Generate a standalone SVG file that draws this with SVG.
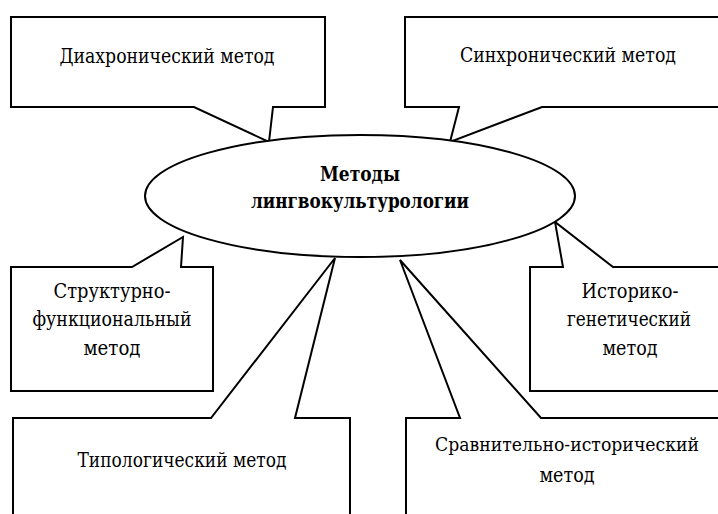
<svg xmlns="http://www.w3.org/2000/svg" width="718" height="514" viewBox="0 0 718 514">
<style>
.c{fill:#fff;stroke:#000;stroke-width:2;stroke-linejoin:miter}
.t{font-family:"DejaVu Serif","Liberation Serif",serif;font-size:20px;fill:#000;text-anchor:middle}
.b{font-weight:bold;font-size:21px}
</style>
<rect width="718" height="514" fill="#fff"/>
<g id="connectors"></g>
<g id="n-diachronic">
<path class="c" d="M11,17 H325 V107 H273 L269,142 L194,107 H11 Z"/>
<text class="t" x="167" y="63" textLength="215" lengthAdjust="spacingAndGlyphs">Диахронический метод</text>
</g>
<g id="n-synchronic">
<path class="c" d="M405,17 H719 V107 H542 L450,142 L459,107 H405 Z"/>
<text class="t" x="568" y="62" textLength="216" lengthAdjust="spacingAndGlyphs">Синхронический метод</text>
</g>
<g id="n-structural">
<path class="c" d="M11,267 H132 L183,237 L181,267 H213 V391 H11 Z"/>
<text class="t" x="112" y="298" textLength="117" lengthAdjust="spacingAndGlyphs">Структурно-</text>
<text class="t" x="112" y="326" textLength="159" lengthAdjust="spacingAndGlyphs">функциональный</text>
<text class="t" x="112" y="355" textLength="57" lengthAdjust="spacingAndGlyphs">метод</text>
</g>
<g id="n-historical">
<path class="c" d="M530,267 H563 L555,222 L613,267 H719 V391 H530 Z"/>
<text class="t" x="630" y="298" textLength="97" lengthAdjust="spacingAndGlyphs">Историко-</text>
<text class="t" x="629" y="326" textLength="124" lengthAdjust="spacingAndGlyphs">генетический</text>
<text class="t" x="630" y="355" textLength="55" lengthAdjust="spacingAndGlyphs">метод</text>
</g>
<g id="n-typological">
<path class="c" d="M13,418 H211 L335,258 L295,418 H350 V515 H13 Z"/>
<text class="t" x="182" y="467" textLength="209" lengthAdjust="spacingAndGlyphs">Типологический метод</text>
</g>
<g id="n-comparative">
<path class="c" d="M406,418 H460 L400,260 L541,418 H719 V515 H406 Z"/>
<text class="t" x="567" y="451" font-size="18" style="font-size:18px" textLength="264" lengthAdjust="spacingAndGlyphs">Сравнительно-исторический</text>
<text class="t" x="567" y="482" textLength="55" lengthAdjust="spacingAndGlyphs">метод</text>
</g>
<g id="n-center">
<ellipse class="c" cx="360" cy="196" rx="215" ry="61"/>
<text class="t b" x="360" y="181" textLength="80" lengthAdjust="spacingAndGlyphs">Методы</text>
<text class="t b" x="360" y="208" textLength="218" lengthAdjust="spacingAndGlyphs">лингвокультурологии</text>
</g>
</svg>
